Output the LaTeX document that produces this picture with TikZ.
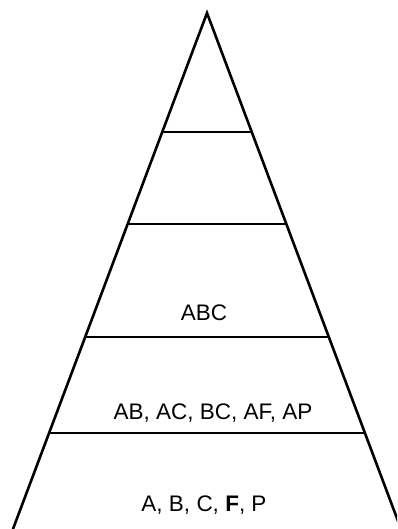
\documentclass[tikz,border=0pt]{standalone}
\usepackage{fontspec}
\setmainfont{Liberation Sans}
\begin{document}
\begin{tikzpicture}[x=1pt,y=-1pt,
  edge/.style={line width=2.6pt,line cap=round,line join=miter},
  lbl/.style={font=\fontsize{22.5}{26}\selectfont,inner sep=0pt,anchor=center}]
\useasboundingbox (0,0) rectangle (397,529);
\clip (0,0) rectangle (397,529);
\coordinate (apex) at (207,13);
\coordinate (bl) at (13,529);
\coordinate (br) at (401,529);
\draw[edge] (bl) -- (apex) -- (br);
\foreach \yy in {132,224,337,433}{
  \pgfmathsetmacro{\dx}{0.376*(\yy-13)}
  \draw[edge,line cap=butt] (207-\dx,\yy) -- (207+\dx,\yy);
}
\node[lbl] (abc) at (204,313) {ABC};
\node[lbl] (pairs) at (213,413) {AB, AC, BC, AF, AP};
\node[lbl] (singles) at (204,505) {A, B, C, \textbf{F}, P};
\end{tikzpicture}
\end{document}
